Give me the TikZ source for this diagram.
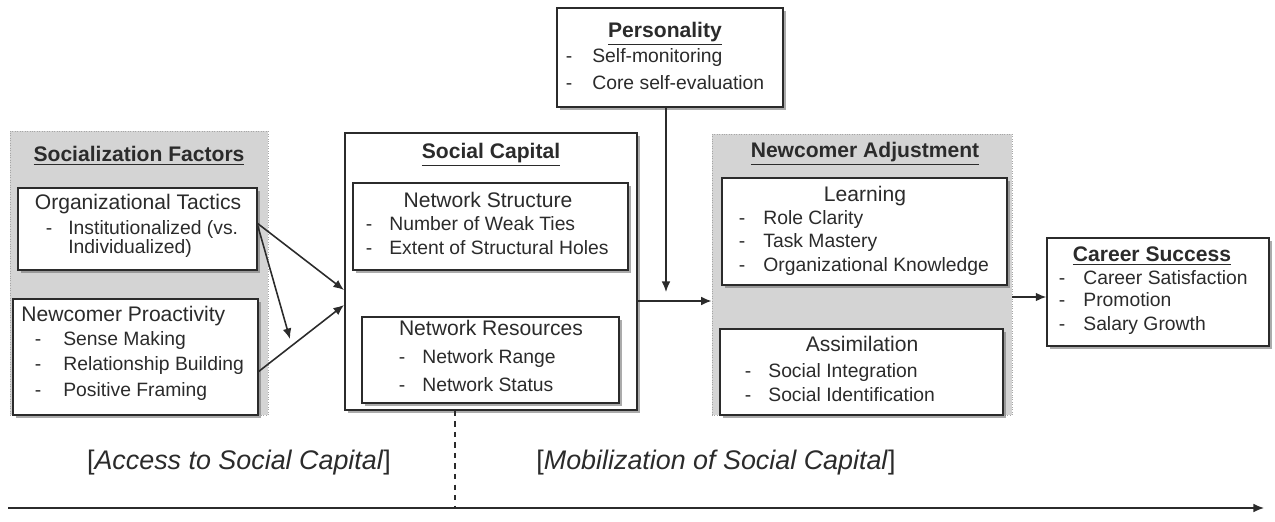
\documentclass[tikz,border=0pt]{standalone}
\usepackage{fontspec}
\setmainfont{Liberation Sans}
\usetikzlibrary{fit,shadows,arrows.meta}

\definecolor{inkgray}{HTML}{2b2b2b}
\definecolor{panelgray}{HTML}{d4d4d4}
\tikzstyle{box}=[draw=inkgray, line width=0.8pt, fill=white, inner sep=0,
  drop shadow={shadow xshift=1.6pt, shadow yshift=-1.6pt, fill=black!55, opacity=0.6}]
\tikzstyle{panel}=[fill=panelgray, draw=black!35, densely dotted, inner sep=0]
\tikzstyle{head}=[font=\fontsize{12}{14}\selectfont\bfseries, text=inkgray, anchor=mid, inner sep=0]
\tikzstyle{title}=[font=\fontsize{12}{14}\selectfont, text=inkgray, anchor=mid, inner sep=0]
\tikzstyle{item}=[font=\fontsize{11}{13}\selectfont, text=inkgray, anchor=mid west, inner sep=0]
\tikzstyle{hyph}=[font=\fontsize{11}{13}\selectfont, text=inkgray, anchor=mid, inner sep=0]
\tikzstyle{link}=[-{Latex[length=6pt, width=5pt]}, line width=0.9pt, draw=inkgray]

\begin{document}
\begin{tikzpicture}[x=0.02cm, y=-0.02cm]

\useasboundingbox (0,0) rectangle (1275,521);

% gray panels
\node [panel, fit={(10,131) (268,415)}] (socpanel) {};
\node [panel, fit={(712,134) (1012,415)}] (adjpanel) {};

% socialization factors
\node [head] (soc-head) at (139,157) {\underline{Socialization Factors}};

\node [box, fit={(18,188) (257,270)}] (orgtac) {};
\node [title] (ot-title) at (138,205) {Organizational Tactics};
\node [hyph] (ot-h1) at (49,230) {-};
\node [item] (ot-1) at (68,230) {Institutionalized (vs.};
\node [item] (ot-2) at (68,249) {Individualized)};

\node [box, fit={(13,299) (258,415)}] (proact) {};
\node [title, anchor=mid west] (np-title) at (21,317) {Newcomer Proactivity};
\node [hyph] (np-h1) at (38,341) {-};
\node [item] (np-1) at (63,341) {Sense Making};
\node [hyph] (np-h2) at (38,366) {-};
\node [item] (np-2) at (63,366) {Relationship Building};
\node [hyph] (np-h3) at (38,392) {-};
\node [item] (np-3) at (63,392) {Positive Framing};

% social capital
\node [box, fit={(345,133) (637,410)}] (soccap) {};
\node [head] (sc-head) at (491,154) {\underline{Social Capital}};

\node [box, fit={(353,183) (628,270)}] (netstruct) {};
\node [title] (ns-title) at (488,203) {Network Structure};
\node [hyph] (ns-h1) at (369,226) {-};
\node [item] (ns-1) at (389,226) {Number of Weak Ties};
\node [hyph] (ns-h2) at (369,250) {-};
\node [item] (ns-2) at (389,250) {Extent of Structural Holes};

\node [box, fit={(362,317) (619,403)}] (netres) {};
\node [title] (nr-title) at (491,331) {Network Resources};
\node [hyph] (nr-h1) at (402,359) {-};
\node [item] (nr-1) at (422,359) {Network Range};
\node [hyph] (nr-h2) at (402,387) {-};
\node [item] (nr-2) at (422,387) {Network Status};

% personality
\node [box, fit={(557,8) (783,107)}] (persn) {};
\node [head] (ps-head) at (665,33) {\underline{Personality}};
\node [hyph] (ps-h1) at (569,58) {-};
\node [item] (ps-1) at (592,58) {Self-monitoring};
\node [hyph] (ps-h2) at (569,85) {-};
\node [item] (ps-2) at (592,85) {Core self-evaluation};

% newcomer adjustment
\node [head] (na-head) at (865,153) {\underline{Newcomer Adjustment}};

\node [box, fit={(722,178) (1007,285)}] (learn) {};
\node [title] (ln-title) at (865,197) {Learning};
\node [hyph] (ln-h1) at (742,220) {-};
\node [item] (ln-1) at (763,220) {Role Clarity};
\node [hyph] (ln-h2) at (742,243) {-};
\node [item] (ln-2) at (763,243) {Task Mastery};
\node [hyph] (ln-h3) at (742,267) {-};
\node [item] (ln-3) at (763,267) {Organizational Knowledge};

\node [box, fit={(720,329) (1003,415)}] (assim) {};
\node [title] (as-title) at (862,347) {Assimilation};
\node [hyph] (as-h1) at (748,373) {-};
\node [item] (as-1) at (768,373) {Social Integration};
\node [hyph] (as-h2) at (748,397) {-};
\node [item] (as-2) at (768,397) {Social Identification};

% career success
\node [box, fit={(1047,238) (1269,346)}] (career) {};
\node [head] (cs-head) at (1152,257) {\underline{Career Success}};
\node [hyph] (cs-h1) at (1062,280) {-};
\node [item] (cs-1) at (1083,280) {Career Satisfaction};
\node [hyph] (cs-h2) at (1062,302) {-};
\node [item] (cs-2) at (1083,302) {Promotion};
\node [hyph] (cs-h3) at (1062,326) {-};
\node [item] (cs-3) at (1083,326) {Salary Growth};

% connectors
\coordinate (ot-out) at (257,223);
\coordinate (np-out) at (258,372);
\coordinate (sc-in1) at (344,290);
\coordinate (sc-in2) at (344,305);
\coordinate (mod-tip) at (290,339);
\coordinate (ps-tip) at (666,292);

\draw [link] (ot-out) to (sc-in1);
\draw [link] (ot-out) to (mod-tip);
\draw [link] (np-out) to (sc-in2);
\draw [link] (persn.south -| ps-tip) to (ps-tip);
\draw [link] (soccap.east |- 0,301) to (adjpanel.west |- 0,301);
\draw [link] (adjpanel.east |- 0,297) to (career.west |- 0,297);

% time line
\coordinate (tl-start) at (8,508);
\coordinate (tl-end) at (1264,508);
\coordinate (split) at (455,508);
\draw [dashed, draw=inkgray, line width=0.6pt] (soccap.south -| split) to (split);
\draw [link] (tl-start) to (tl-end);

\node [text=inkgray, font=\fontsize{15.3}{18}\selectfont] (access) at (239,463) {[\textit{Access to Social Capital}]};
\node [text=inkgray, font=\fontsize{15.3}{18}\selectfont] (mobil) at (716,463) {[\textit{Mobilization of Social Capital}]};

\end{tikzpicture}
\end{document}
